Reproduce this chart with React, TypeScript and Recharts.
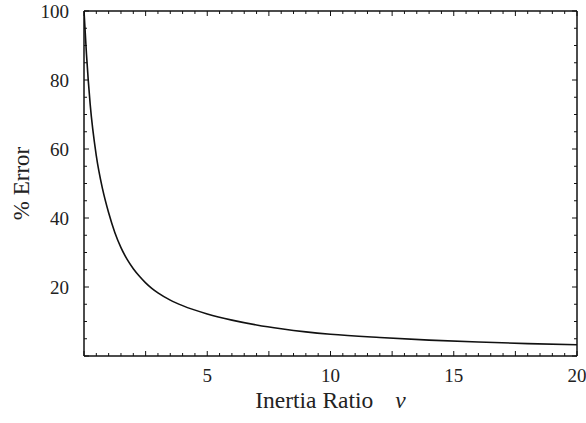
import { Label, Line, LineChart, XAxis, YAxis } from "recharts";

const nu = [0, 0.1, 0.25, 0.5, 0.75, 1, 1.25, 1.5, 1.75, 2, 2.25, 2.5, 2.75, 3, 3.5, 4, 5, 6, 7, 8, 9, 10, 12, 14, 16, 18, 20];
const errorPct = [100, 87.5, 73, 58, 48.5, 41.5, 35.8, 31.4, 28, 25.3, 23.1, 21.2, 19.6, 18.3, 16.2, 14.6, 12.2, 10.4, 9.0, 7.9, 7.0, 6.3, 5.35, 4.6, 4.05, 3.6, 3.25];

const xTicks = Array.from({ length: 41 }, (_, i) => i * 0.5);
const yTicks = Array.from({ length: 21 }, (_, i) => i * 5);
const xLabels = [5, 10, 15, 20];
const yLabels = [20, 40, 60, 80, 100];

const data = nu.map((v, i) => ({ nu: v, err: errorPct[i] }));

const FONT = "'Liberation Serif', 'Times New Roman', serif";
const INK = "#111";

function xMajor(v: number) {
  return Math.abs(v / 2.5 - Math.round(v / 2.5)) < 1e-6;
}
function yMajor(v: number) {
  return v % 20 === 0;
}

function BottomTick(props: any) {
  const { x, y, payload } = props;
  const v = payload.value;
  const len = xMajor(v) ? 5 : 3;
  return (
    <g>
      <line x1={x} x2={x} y1={y} y2={y - len} stroke={INK} strokeWidth={1} />
      {xLabels.includes(v) && (
        <text x={x} y={y + 26} textAnchor="middle" fontFamily={FONT} fontSize={19} fill="#222">
          {v}
        </text>
      )}
    </g>
  );
}

function TopTick(props: any) {
  const { x, y, payload } = props;
  const len = xMajor(payload.value) ? 5 : 3;
  return <line x1={x} x2={x} y1={y} y2={y + len} stroke={INK} strokeWidth={1} />;
}

function LeftTick(props: any) {
  const { x, y, payload } = props;
  const v = payload.value;
  const len = yMajor(v) ? 5 : 3;
  return (
    <g>
      <line x1={x} x2={x + len} y1={y} y2={y} stroke={INK} strokeWidth={1} />
      {yLabels.includes(v) && (
        <text x={x - 15} y={y + 7} textAnchor="end" fontFamily={FONT} fontSize={19} fill="#222">
          {v}
        </text>
      )}
    </g>
  );
}

function RightTick(props: any) {
  const { x, y, payload } = props;
  const len = yMajor(payload.value) ? 5 : 3;
  return <line x1={x} x2={x - len} y1={y} y2={y} stroke={INK} strokeWidth={1} />;
}

function XTitle(props: any) {
  const { viewBox } = props;
  const cx = viewBox.x + viewBox.width / 2;
  return (
    <text x={cx} y={viewBox.y + 51.5} textAnchor="middle" fontFamily={FONT} fontSize={23.5} fill="#222">
      Inertia Ratio
      <tspan dx={22} fontStyle="italic">ν</tspan>
    </text>
  );
}

function YTitle(props: any) {
  const { viewBox } = props;
  const cy = viewBox.y + viewBox.height / 2;
  const cx = 29;
  return (
    <text
      x={cx}
      y={cy}
      transform={`rotate(-90, ${cx}, ${cy})`}
      textAnchor="middle"
      fontFamily={FONT}
      fontSize={23}
      fill="#222"
    >
      % Error
    </text>
  );
}

export default function App() {
  return (
    <div style={{ position: "absolute", left: 0, top: 0, width: 586, height: 423, background: "#fff" }}>
      <LineChart width={586} height={423} data={data} margin={{ top: 10, right: 8, bottom: 7, left: 0 }}>
        <XAxis
          dataKey="nu"
          type="number"
          domain={[0, 20]}
          ticks={xTicks}
          interval={0}
          tickSize={0}
          tickMargin={0}
          tickLine={false}
          tick={<BottomTick />}
          axisLine={{ stroke: INK, strokeWidth: 1.5 }}
          height={60}
          allowDataOverflow
        >
          <Label content={<XTitle />} />
        </XAxis>
        <XAxis
          xAxisId="top"
          orientation="top"
          dataKey="nu"
          type="number"
          domain={[0, 20]}
          ticks={xTicks}
          interval={0}
          tickSize={0}
          tickMargin={0}
          tickLine={false}
          tick={<TopTick />}
          axisLine={{ stroke: INK, strokeWidth: 1.5 }}
          height={1}
          allowDataOverflow
        />
        <YAxis
          type="number"
          domain={[0, 100]}
          ticks={yTicks}
          interval={0}
          tickSize={0}
          tickMargin={0}
          tickLine={false}
          tick={<LeftTick />}
          axisLine={{ stroke: INK, strokeWidth: 1.5 }}
          width={84}
          allowDataOverflow
        >
          <Label content={<YTitle />} />
        </YAxis>
        <YAxis
          yAxisId="right"
          orientation="right"
          type="number"
          domain={[0, 100]}
          ticks={yTicks}
          interval={0}
          tickSize={0}
          tickMargin={0}
          tickLine={false}
          tick={<RightTick />}
          axisLine={{ stroke: INK, strokeWidth: 1.5 }}
          width={1}
          allowDataOverflow
        />
        <Line
          dataKey="err"
          type="monotone"
          stroke="#111"
          strokeWidth={1.6}
          dot={false}
          activeDot={false}
          isAnimationActive={false}
        />
        <Line
          dataKey="err"
          xAxisId="top"
          yAxisId="right"
          stroke="none"
          dot={false}
          activeDot={false}
          isAnimationActive={false}
        />
      </LineChart>
    </div>
  );
}
